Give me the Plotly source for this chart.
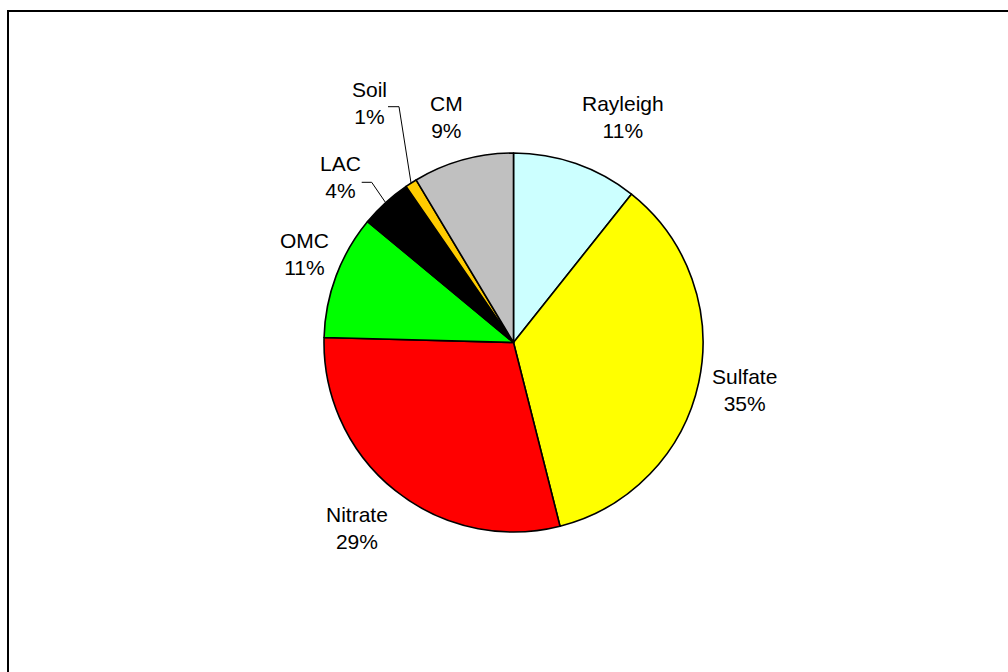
import math
import plotly.graph_objects as go

# ---- data ----
labels = ["Rayleigh", "Sulfate", "Nitrate", "OMC", "LAC", "Soil", "CM"]
values = [10.7, 35.4, 29.4, 10.6, 4.4, 1.0, 8.6]
colors = ["#CCFFFF", "#FFFF00", "#FF0000", "#00FF00", "#000000", "#FFCC00", "#C0C0C0"]

# ---- layout constants (pixels) ----
W, H = 1008, 672
CX, CY, R = 513.5, 342.5, 189.5
FONT = dict(family="Liberation Sans, Arial, sans-serif", size=21, color="black")

# label block centres (pixels)
label_pos = {
    "Rayleigh": (623, 117),
    "Sulfate": (744, 390),
    "Nitrate": (357, 528),
    "OMC": (304, 254),
    "LAC": (340, 177),
    "Soil": (369, 103),
    "CM": (446, 117),
}
# leader line start points (pixels) for small slices
leader_start = {
    "Soil": [(388, 106.7), (399, 106.7)],
    "LAC": [(361.7, 182.3), (371.7, 182.3)],
}


def px(x):
    return x / W


def py(y):
    return 1 - y / H


fig = go.Figure(
    go.Pie(
        labels=labels,
        values=values,
        marker=dict(colors=colors, line=dict(color="black", width=1.6)),
        sort=False,
        direction="clockwise",
        rotation=0,
        textinfo="none",
        hoverinfo="label+percent",
        domain=dict(x=[px(CX - R), px(CX + R)], y=[py(CY + R), py(CY - R)]),
        showlegend=False,
    )
)

total = sum(values)
annotations = []
shapes = []
cum = 0.0
for lab, v in zip(labels, values):
    pct = round(100 * v / total)
    x, y = label_pos[lab]
    annotations.append(
        dict(
            x=px(x), y=py(y), xref="paper", yref="paper",
            text=f"{lab}<br>{pct}%", showarrow=False,
            xanchor="center", yanchor="middle", align="center", font=FONT,
        )
    )
    mid = (cum + v / 2) / total * 2 * math.pi
    cum += v
    if lab in leader_start:
        ex = CX + R * math.sin(mid)
        ey = CY - R * math.cos(mid)
        pts = leader_start[lab] + [(ex, ey)]
        path = "M " + " L ".join(f"{px(a)},{py(b)}" for a, b in pts)
        shapes.append(
            dict(type="path", xref="paper", yref="paper", path=path,
                 line=dict(color="black", width=1))
        )

# outer chart frame (extends beyond right/bottom edges)
shapes.append(
    dict(type="rect", xref="paper", yref="paper",
         x0=px(8), x1=px(W + 20), y0=py(H + 20), y1=py(11),
         line=dict(color="black", width=2), fillcolor="rgba(0,0,0,0)")
)

fig.update_layout(
    width=W, height=H,
    margin=dict(l=0, r=0, t=0, b=0),
    paper_bgcolor="white", plot_bgcolor="white",
    annotations=annotations, shapes=shapes,
)

fig.write_html("out.html")
